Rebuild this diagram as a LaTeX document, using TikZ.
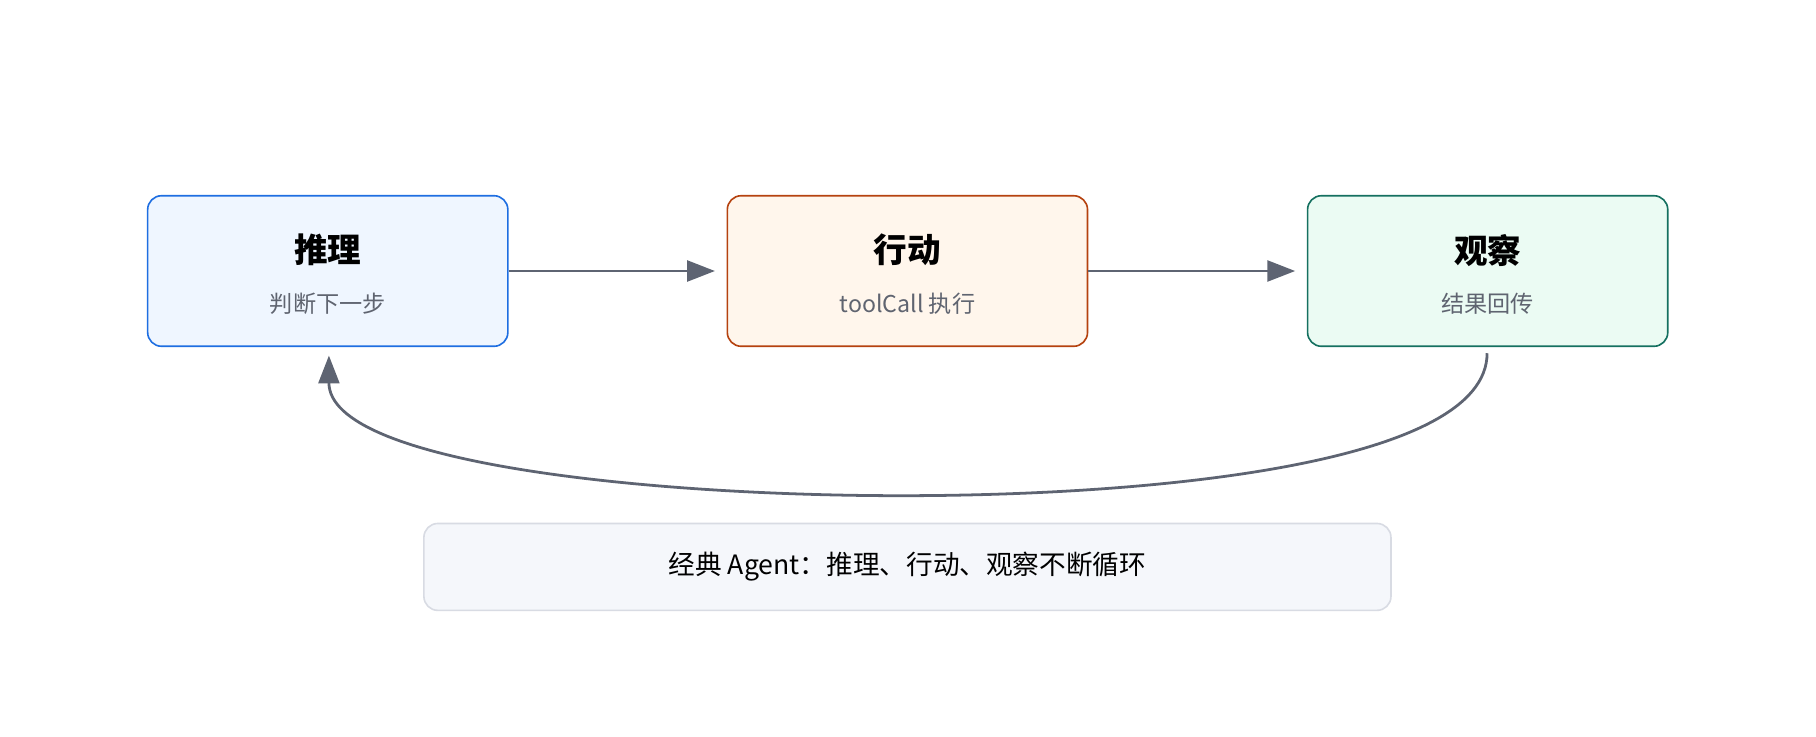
\documentclass[tikz,border=0pt]{standalone}
\usepackage{fontspec}
\setmainfont{Noto Sans CJK SC}
\usetikzlibrary{arrows.meta}
\definecolor{ar}{HTML}{5E6472}
\definecolor{sub}{HTML}{5F6470}
\begin{document}
\begin{tikzpicture}[x=0.5pt,y=-0.5pt,
  box/.style={draw, rounded corners=6pt, line width=0.7pt, minimum width=155.5pt, minimum height=65pt, inner sep=0pt},
  ttl/.style={font=\fontsize{14.5}{16}\selectfont\bfseries},
  st/.style={font=\fontsize{10}{12}\selectfont, text=sub},
  arr/.style={draw=ar, line width=1.2pt, -{Triangle[length=12pt,width=9pt]}}]
\useasboundingbox (0,0) rectangle (1568,636);
\node[box, draw={rgb,255:red,30;green,110;blue,225}, fill={rgb,255:red,239;green,246;blue,255}] (a) at (283,234) {};
\node[box, draw={rgb,255:red,181;green,66;blue,15}, fill={rgb,255:red,255;green,246;blue,236}] (b) at (783.5,234) {};
\node[box, draw={rgb,255:red,21;green,112;blue,96}, fill={rgb,255:red,235;green,251;blue,243}] (c) at (1284.5,234) {};
\node[ttl] (at) at (283,216) {推理};
\node[st] (as) at (283,262) {判断下一步};
\node[ttl] (bt) at (783.5,216) {行动};
\node[st] (bs) at (783.5,262) {toolCall 执行};
\node[ttl] (ct) at (1284.5,216) {观察};
\node[st] (cs) at (1284.5,262) {结果回传};
\draw[arr] (a.east) -- ([xshift=-5pt]b.west);
\draw[arr] (b.east) -- ([xshift=-5pt]c.west);
\coordinate (s) at (1284,305);
\coordinate (e) at (284,307);
\draw[arr] (s) .. controls (1284,400) and (1000,428) .. (778,428) .. controls (560,428) and (284,400) .. (e);
\node[draw={rgb,255:red,216;green,219;blue,227}, fill={rgb,255:red,245;green,247;blue,251}, rounded corners=6pt, line width=0.7pt, minimum width=417.5pt, minimum height=37.5pt, font=\fontsize{11.5}{13}\selectfont] (n) at (783.5,489.5) {经典 Agent：推理、行动、观察不断循环};
\end{tikzpicture}
\end{document}
